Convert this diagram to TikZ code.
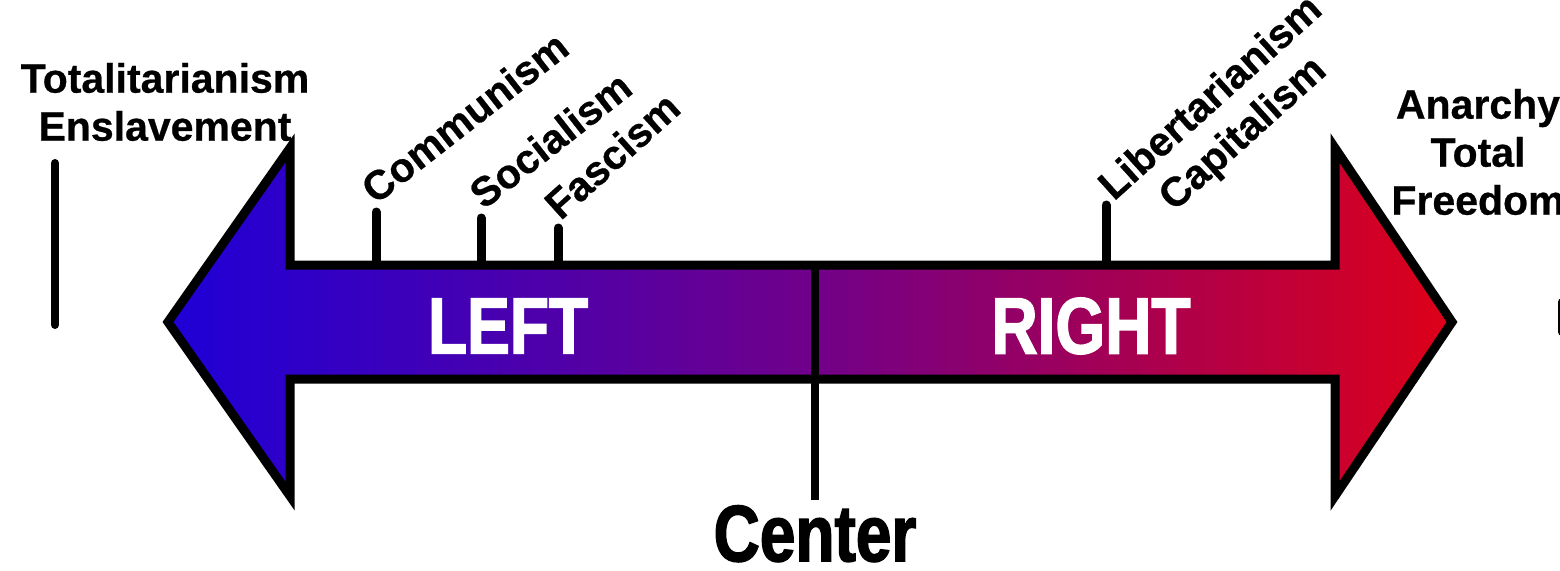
\documentclass[tikz,border=0pt]{standalone}
\usepackage{fontspec}
\setmainfont{Liberation Sans}
\newfontfamily\lblfont{Liberation Sans Bold}[FakeBold=0.6]
\newfontfamily\heavyfont{Liberation Sans Bold}[FakeStretch=0.8,FakeBold=1.8]
\usetikzlibrary{positioning,calc}
\definecolor{leftblue}{RGB}{30,0,215}
\definecolor{midpurple}{RGB}{112,0,138}
\definecolor{rightred}{RGB}{222,0,25}

\begin{document}
\begin{tikzpicture}[
  x=0.5pt,y=0.5pt,
  lbl/.style={font=\fontsize{20.5}{24}\selectfont\lblfont,align=center,inner sep=0pt},
  tilted/.style={lbl,anchor=south west,rotate=#1},
  big/.style={font=\fontsize{40}{40}\selectfont\heavyfont,inner sep=0pt},
  tick/.style={line width=4.5pt,line cap=round},
  bar/.style={line width=4pt,line cap=round},
]
\useasboundingbox (0,0) rectangle (1560,570);

% ===== tick marks above the shaft =====
\coordinate (shafttop) at (0,305);
\coordinate (comm) at (376,358);
\coordinate (soc) at (481,352);
\coordinate (fasc) at (558,342);
\coordinate (lib) at (1106,365);
\foreach \t in {comm,soc,fasc,lib} \draw[tick] (\t) -- (\t|-shafttop);

% ===== the double arrow =====
\path[draw=black,line width=4.5pt,line join=miter,
      left color=leftblue,right color=rightred,middle color=midpurple]
  (168,248) -- (290,422) -- (290,305) -- (1335,305) -- (1335,422) -- (1452,248)
  -- (1335,74) -- (1335,191) -- (290,191) -- (290,74) -- cycle;
\node[big,white] (lefttxt) at (508,244) {LEFT};
\node[big,white] (righttxt) at (1091,244) {RIGHT};

% centre divider
\coordinate (ctop) at (815,305);
\coordinate (cbot) at (815,70);
\draw[bar,line cap=butt] (ctop) -- (cbot);
\node[big,below=2.5pt of cbot] (centretxt) {Center};

% ===== end bars =====
\draw[bar] (55,407) -- (55,245);
\draw[bar] (1562,268) -- (1562,238);

% ===== labels =====
\node[lbl] (totaltxt) at (165,468) {Totalitarianism\\Enslavement};
\node[lbl] (anarchytxt) at (1478,418) {Anarchy\\Total\\Freedom};
\node[tilted=38] (commtxt) at ($(comm)+(0,6)$) {Communism};
\node[tilted=38] (soctxt) at ($(soc)+(3,7)$) {Socialism};
\node[tilted=42] (fasctxt) at ($(fasc)+(3,6)$) {Fascism};
\node[lbl,rotate=42] (libtxt) at ($(lib)+(122,88)$) {Libertarianism\\Capitalism};
\end{tikzpicture}
\end{document}
